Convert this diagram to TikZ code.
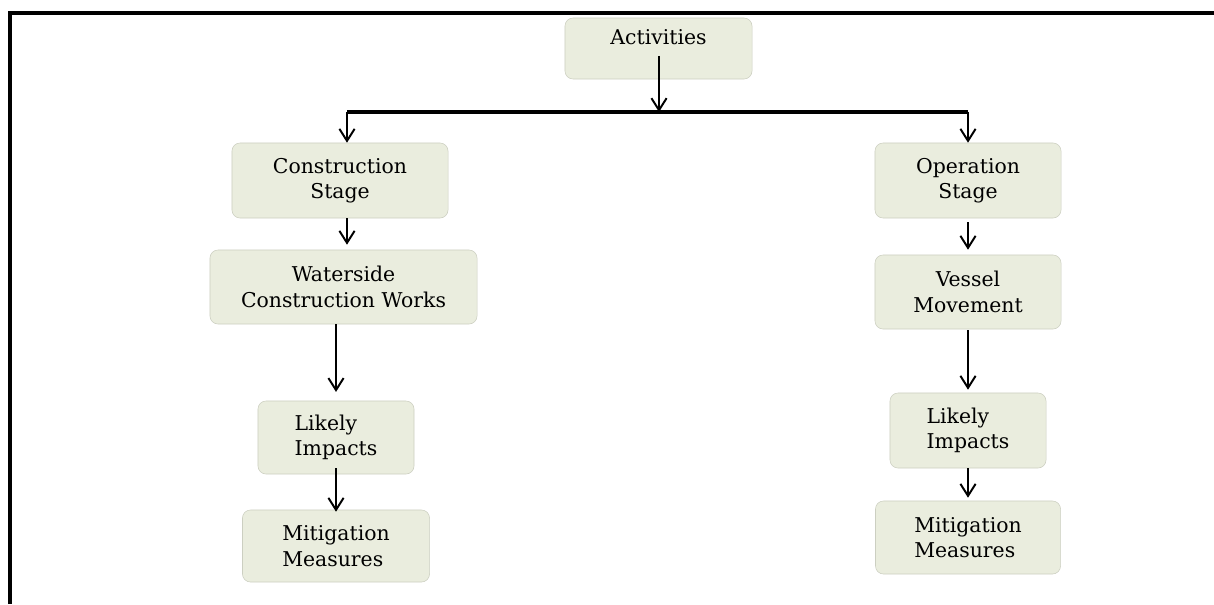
\documentclass[tikz,border=0pt]{standalone}
\usepackage{fontspec}
\setmainfont{DejaVu Serif}
\usetikzlibrary{arrows.meta}
\definecolor{boxfill}{RGB}{234,237,222}
\definecolor{boxline}{RGB}{204,207,193}

\begin{document}
\begin{tikzpicture}[
	x=0.025cm, y=-0.025cm,
	font=\fontsize{14.5}{18}\selectfont,
	bx/.style={rectangle,rounded corners=0.2cm,draw=boxline,fill=boxfill,align=center,inner sep=2pt},
	bxl/.style={bx,align=left},
	ar/.style={line width=1.4pt,-{Straight Barb[length=0.3cm,width=0.38cm,line width=1.4pt]}},
	rail/.style={line width=2.4pt},
	frm/.style={line width=2.2pt},
	]
\useasboundingbox (0,0) rectangle (1214,604);
\draw[frm] (10,604) -- (10,13) -- (1214,13);

\node[bx,minimum width=4.675cm,minimum height=1.525cm,text height=10pt,text depth=15pt] (act) at (658.5,48.5) {Activities};

% construction side
\node[bx,minimum width=5.4cm,minimum height=1.875cm] (cs) at (340,180.5) {Construction\\Stage};
\node[bx,minimum width=6.675cm,minimum height=1.85cm] (ww) at (343.5,287) {Waterside\\Construction Works};
\node[bxl,minimum width=3.9cm,minimum height=1.825cm] (li1) at (336,437.5) {Likely\\Impacts};
\node[bxl,minimum width=4.675cm,minimum height=1.8cm] (mm1) at (336,546) {Mitigation\\Measures};

% operation side
\node[bx,minimum width=4.65cm,minimum height=1.875cm] (os) at (968,180.5) {Operation\\Stage};
\node[bx,minimum width=4.65cm,minimum height=1.85cm] (vm) at (968,292) {Vessel\\Movement};
\node[bxl,minimum width=3.9cm,minimum height=1.875cm] (li2) at (968,430.5) {Likely\\Impacts};
\node[bxl,minimum width=4.625cm,minimum height=1.825cm] (mm2) at (968,537.5) {Mitigation\\Measures};

% junction
\coordinate (aout) at (659,56);
\coordinate (jm) at (659,112);
\coordinate (jl) at (347,112);
\coordinate (jr) at (968,112);
\draw[rail] (jl) -- (jr);
\draw[ar] (aout) -- (jm);
\draw[ar] (jl) -- (jl |- cs.north);
\draw[ar] (jr) -- (os);

\draw[ar,shorten >=0.125cm] (jl |- cs.south) -- (jl |- ww.north);
\draw[ar,shorten >=0.22cm] (ww.south -| li1) -- (li1);
\draw[ar,shorten <=-0.15cm,shorten >=-0.05cm] (li1) -- (mm1);

\draw[ar,shorten <=0.1cm,shorten >=0.125cm] (os) -- (vm);
\draw[ar,shorten <=0.025cm,shorten >=0.075cm] (vm) -- (li2);
\draw[ar,shorten >=0.075cm] (li2) -- (mm2);
\end{tikzpicture}
\end{document}
